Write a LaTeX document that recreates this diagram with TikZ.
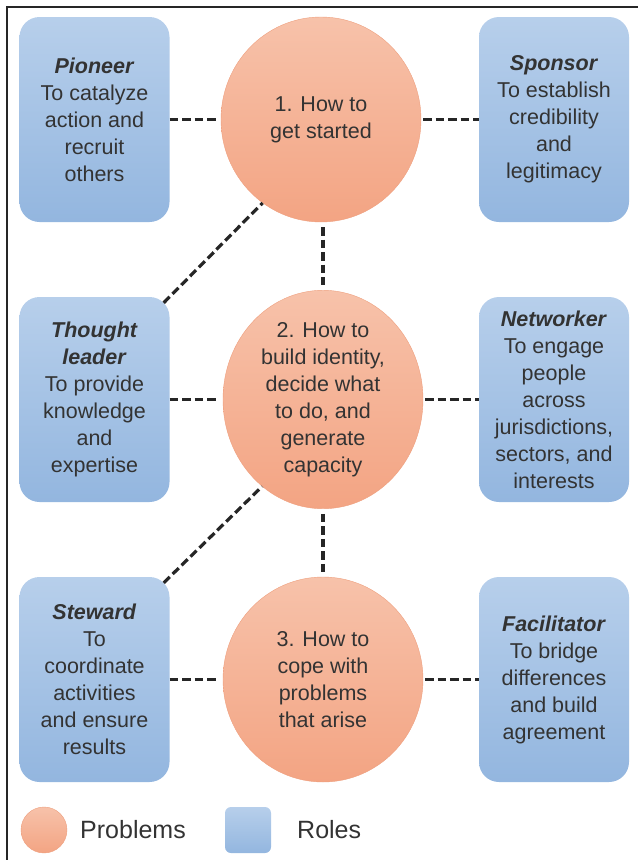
\documentclass[tikz,border=0pt]{standalone}
\usepackage{fontspec}
\setmainfont{Liberation Sans}
\usetikzlibrary{shapes.geometric,calc}
\definecolor{txt}{HTML}{333333}
\definecolor{boxtop}{HTML}{B7CFEB}
\definecolor{boxbot}{HTML}{93B6DF}
\definecolor{cirtop}{HTML}{F7C2AA}
\definecolor{cirbot}{HTML}{F3A483}
\definecolor{cirline}{HTML}{EE9F7E}
\tikzset{
  rolebox/.style={rectangle, rounded corners=20pt, minimum width=150pt, minimum height=205pt,
    top color=boxtop, bottom color=boxbot, draw=none, align=center, inner sep=0pt,
    text=txt, font=\fontsize{21.5}{27}\selectfont},
  probnode/.style={ellipse, minimum width=200pt, minimum height=205pt, inner sep=0pt,
    top color=cirtop, bottom color=cirbot, draw=cirline, line width=0.4pt, align=center,
    text=txt, font=\fontsize{21.5}{27}\selectfont},
  link/.style={draw=black!85, line width=3.2pt, dash pattern=on 8.5pt off 4pt},
  legtext/.style={text=txt, anchor=west, inner sep=0pt, font=\fontsize{25}{30}\selectfont}
}
\begin{document}
\begin{tikzpicture}[x=1pt, y=-1pt]
\useasboundingbox (0,0) rectangle (638,860);
\draw[line width=1.6pt, black!85] (7,860) -- (7,7) -- (638,7);

% roles
\node[rolebox] (pio) at (94.5,119.5) {\textbf{\textit{Pioneer}}\\To catalyze\\action and\\recruit\\others};
\node[rolebox] (spo) at (554,119.5) {\textbf{\textit{Sponsor}}\\To establish\\credibility\\and\\legitimacy};
\node[rolebox] (tho) at (94.5,399.5) {\textbf{\textit{Thought}}\\\textbf{\textit{leader}}\\To provide\\knowledge\\and\\expertise};
\node[rolebox] (net) at (554,399.5) {\textbf{\textit{Networker}}\\To engage\\people\\across\\jurisdictions,\\sectors, and\\interests};
\node[rolebox] (ste) at (94.5,679.5) {\textbf{\textit{Steward}}\\To\\coordinate\\activities\\and ensure\\results};
\node[rolebox] (fac) at (554,679.5) {\textbf{\textit{Facilitator}}\\To bridge\\differences\\and build\\agreement};

% problems
\node[probnode] (p1) at (321,119.5) {1. How to\\get started};
\node[probnode] (p2) at (323,399.5) {2. How to\\build identity,\\decide what\\to do, and\\generate\\capacity};
\node[probnode] (p3) at (323,679.5) {3. How to\\cope with\\problems\\that arise};

% corner points on the rounded box corners
\coordinate (thoc) at ($(tho.north east)+(-6,6)$);
\coordinate (stec) at ($(ste.north east)+(-6,6)$);

% connectors
\draw[link, shorten >=5pt] (pio.east) -- (p1.west);
\draw[link, shorten <=2pt] (p1.east) -- (spo.west);
\draw[link, shorten >=5pt] (tho.east) -- (p2.west);
\draw[link, shorten <=2pt] (p2.east) -- (net.west);
\draw[link, shorten >=5pt] (ste.east) -- (p3.west);
\draw[link, shorten <=2pt] (p3.east) -- (fac.west);
\draw[link, shorten <=5pt, shorten >=5pt] (p2.north |- p1.south) -- (p2.north);
\draw[link, shorten <=5pt, shorten >=5pt] (p2.south) -- (p3.north);
\draw[link] (thoc) -- (p1.235);
\draw[link] (stec) -- (p2.235);

% legend
\node[circle, minimum size=46pt, inner sep=0pt, top color=cirtop, bottom color=cirbot, draw=cirline, line width=0.4pt] (lc) at (44,830) {};
\node[legtext] (lp) at (80,830) {Problems};
\node[rectangle, rounded corners=6pt, minimum size=46pt, inner sep=0pt, top color=boxtop, bottom color=boxbot] (lr) at (248,830) {};
\node[legtext] (lrt) at (297,830) {Roles};
\end{tikzpicture}
\end{document}
